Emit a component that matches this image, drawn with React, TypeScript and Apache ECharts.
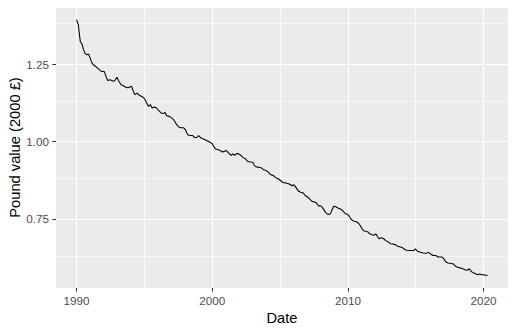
import React, { useEffect, useRef } from "react";
import * as echarts from "echarts";

const years: number[] = [
  1990.0, 1990.13, 1990.2, 1990.28, 1990.4, 1990.5, 1990.62, 1990.77, 1990.89, 1991.0,
  1991.14, 1991.3, 1991.47, 1991.67, 1991.85, 1992.04, 1992.17, 1992.29, 1992.46, 1992.6,
  1992.73, 1992.86, 1992.98, 1993.1, 1993.28, 1993.45, 1993.6, 1993.76, 1993.94, 1994.06,
  1994.18, 1994.31, 1994.46, 1994.63, 1994.8, 1994.92, 1995.02, 1995.17, 1995.3, 1995.44,
  1995.57, 1995.74, 1995.9, 1996.05, 1996.23, 1996.4, 1996.52, 1996.64, 1996.84, 1997.01,
  1997.16, 1997.34, 1997.53, 1997.7, 1997.9, 1998.02, 1998.19, 1998.37, 1998.56, 1998.69,
  1998.86, 1999.0, 1999.18, 1999.35, 1999.55, 1999.74, 1999.92, 2000.0, 2000.11, 2000.24,
  2000.41, 2000.58, 2000.73, 2000.9, 2001.02, 2001.14, 2001.27, 2001.39, 2001.51, 2001.64,
  2001.81, 2001.96, 2002.13, 2002.3, 2002.45, 2002.62, 2002.8, 2002.99, 2003.11, 2003.24,
  2003.43, 2003.61, 2003.78, 2003.98, 2004.15, 2004.3, 2004.47, 2004.64, 2004.79, 2004.91,
  2005.03, 2005.2, 2005.4, 2005.57, 2005.75, 2005.9, 2006.0, 2006.12, 2006.24, 2006.37,
  2006.52, 2006.69, 2006.81, 2006.93, 2007.05, 2007.17, 2007.34, 2007.49, 2007.62, 2007.74,
  2007.86, 2007.96, 2008.08, 2008.23, 2008.35, 2008.48, 2008.6, 2008.72, 2008.82, 2008.95,
  2009.1, 2009.26, 2009.44, 2009.59, 2009.71, 2009.83, 2010.0, 2010.13, 2010.25, 2010.42,
  2010.62, 2010.79, 2010.92, 2011.04, 2011.16, 2011.31, 2011.48, 2011.6, 2011.78, 2011.92,
  2012.05, 2012.17, 2012.29, 2012.47, 2012.64, 2012.79, 2012.96, 2013.13, 2013.32, 2013.5,
  2013.65, 2013.82, 2013.99, 2014.14, 2014.31, 2014.5, 2014.68, 2014.85, 2014.97, 2015.12,
  2015.3, 2015.54, 2015.79, 2015.96, 2016.09, 2016.28, 2016.48, 2016.65, 2016.83, 2016.95,
  2017.07, 2017.22, 2017.39, 2017.57, 2017.76, 2017.94, 2018.09, 2018.26, 2018.46, 2018.63,
  2018.8, 2018.95, 2019.07, 2019.24, 2019.42, 2019.54, 2019.69, 2019.87, 2019.99, 2020.11,
  2020.3,
];

const poundValue: number[] = [
  1.393, 1.377, 1.35, 1.321, 1.315, 1.298, 1.285, 1.28, 1.282, 1.269,
  1.253, 1.245, 1.24, 1.232, 1.226, 1.226, 1.21, 1.197, 1.199, 1.197,
  1.194, 1.199, 1.207, 1.196, 1.183, 1.18, 1.176, 1.173, 1.176, 1.178,
  1.162, 1.151, 1.156, 1.149, 1.145, 1.142, 1.137, 1.124, 1.113, 1.119,
  1.108, 1.111, 1.108, 1.1, 1.092, 1.09, 1.094, 1.083, 1.081, 1.076,
  1.07, 1.057, 1.047, 1.044, 1.044, 1.038, 1.022, 1.019, 1.019, 1.013,
  1.013, 1.019, 1.011, 1.008, 1.004, 1.0, 0.995, 0.993, 0.984, 0.976,
  0.974, 0.971, 0.966, 0.968, 0.971, 0.966, 0.96, 0.955, 0.96, 0.955,
  0.961, 0.96, 0.954, 0.947, 0.944, 0.936, 0.934, 0.933, 0.922, 0.918,
  0.917, 0.915, 0.909, 0.906, 0.9, 0.893, 0.891, 0.885, 0.88, 0.879,
  0.874, 0.868, 0.866, 0.864, 0.861, 0.857, 0.861, 0.855, 0.847, 0.839,
  0.836, 0.834, 0.828, 0.823, 0.82, 0.815, 0.807, 0.805, 0.804, 0.798,
  0.791, 0.793, 0.789, 0.78, 0.771, 0.766, 0.764, 0.767, 0.778, 0.791,
  0.789, 0.785, 0.782, 0.778, 0.772, 0.767, 0.764, 0.756, 0.748, 0.743,
  0.741, 0.736, 0.728, 0.718, 0.712, 0.71, 0.708, 0.702, 0.699, 0.697,
  0.702, 0.694, 0.686, 0.689, 0.686, 0.68, 0.676, 0.67, 0.669, 0.667,
  0.662, 0.66, 0.658, 0.653, 0.649, 0.648, 0.648, 0.648, 0.653, 0.646,
  0.643, 0.64, 0.639, 0.642, 0.637, 0.632, 0.632, 0.627, 0.627, 0.627,
  0.621, 0.611, 0.608, 0.606, 0.605, 0.597, 0.594, 0.592, 0.589, 0.586,
  0.584, 0.589, 0.581, 0.576, 0.573, 0.57, 0.572, 0.57, 0.57, 0.568,
  0.568,
];

const xMajorTicks: number[] = [1990, 2000, 2010, 2020];
const xMinorBreaks: number[] = [1995, 2005, 2015];
const yMajorTicks: number[] = [0.75, 1.0, 1.25];
const yMinorBreaks: number[] = [0.625, 0.875, 1.125, 1.375];

const FONT = "'Liberation Sans', Arial, sans-serif";

export default function App() {
  const ref = useRef<HTMLDivElement>(null);
  useEffect(() => {
    if (!ref.current) return;
    const chart = echarts.init(ref.current, null, { renderer: "svg" });
    const gridLines = [
      ...xMajorTicks.map((v) => ({ xAxis: v, lineStyle: { width: 1.1 } })),
      ...xMinorBreaks.map((v) => ({ xAxis: v, lineStyle: { width: 0.6 } })),
      ...yMajorTicks.map((v) => ({ yAxis: v, lineStyle: { width: 1.1 } })),
      ...yMinorBreaks.map((v) => ({ yAxis: v, lineStyle: { width: 0.6 } })),
    ];
    chart.setOption({
      animation: false,
      backgroundColor: "#FFFFFF",
      grid: {
        left: 56,
        top: 7,
        right: 8,
        bottom: 45,
        show: true,
        backgroundColor: "#EBEBEB",
        borderWidth: 0,
        containLabel: false,
        outerBoundsMode: "none",
      },
      xAxis: {
        type: "value",
        min: 1988.485,
        max: 2021.8,
        name: "Date",
        nameLocation: "middle",
        nameGap: 22,
        nameMoveOverlap: false,
        nameTextStyle: { color: "#000000", fontSize: 14.7, fontFamily: FONT },
        axisLine: { show: false },
        axisTick: {
          show: true,
          customValues: xMajorTicks,
          length: 3.67,
          lineStyle: { color: "#333333", width: 1.07 },
        },
        axisLabel: {
          customValues: xMajorTicks,
          color: "#4D4D4D",
          fontSize: 11.7,
          fontFamily: FONT,
          margin: 6,
          formatter: (v: number) => String(v),
        },
        splitLine: { show: false },
      },
      yAxis: {
        type: "value",
        min: 0.527,
        max: 1.434,
        name: "Pound value (2000 £)",
        nameLocation: "middle",
        nameGap: 34,
        nameMoveOverlap: false,
        nameTextStyle: { color: "#000000", fontSize: 14.7, fontFamily: FONT },
        axisLine: { show: false },
        axisTick: {
          show: true,
          customValues: yMajorTicks,
          length: 3.67,
          lineStyle: { color: "#333333", width: 1.07 },
        },
        axisLabel: {
          customValues: yMajorTicks,
          color: "#4D4D4D",
          fontSize: 11.7,
          fontFamily: FONT,
          margin: 7,
          formatter: (v: number) => v.toFixed(2),
        },
        splitLine: { show: false },
      },
      series: [
        {
          type: "line",
          data: [],
          z: 1,
          silent: true,
          markLine: {
            silent: true,
            z: 1,
            symbol: "none",
            label: { show: false },
            lineStyle: { color: "#FFFFFF", type: "solid", opacity: 1 },
            emphasis: { disabled: true },
            data: gridLines,
          },
        },
        {
          type: "line",
          z: 3,
          data: years.map((y, i) => [y, poundValue[i]]),
          showSymbol: false,
          symbol: "none",
          lineStyle: { color: "#000000", width: 1.07 },
          silent: true,
        },
      ],
    });
    return () => chart.dispose();
  }, []);
  return <div ref={ref} style={{ width: 516, height: 333, margin: -8 }} />;
}
